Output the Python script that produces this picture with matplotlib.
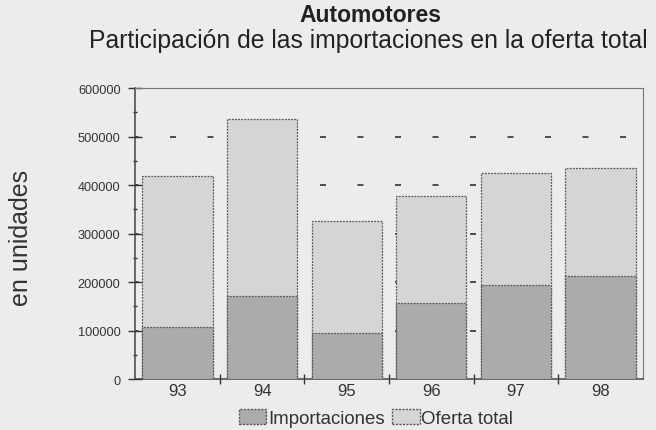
import matplotlib
matplotlib.use("Agg")
import matplotlib.pyplot as plt
from matplotlib.patches import Patch
import numpy as np

years = ["93", "94", "95", "96", "97", "98"]
oferta_total = [419000, 536000, 326000, 377000, 425000, 436000]
importaciones = [106500, 172000, 94000, 156000, 194500, 212000]
y_ticks = [0, 100000, 200000, 300000, 400000, 500000, 600000]

plt.rcParams['font.family'] = ['Liberation Sans', 'DejaVu Sans']

bg = '#ececec'
c_imp = '#ababab'
c_tot = '#d5d5d5'
edge = '#555555'

fig = plt.figure(figsize=(6.56, 4.31), dpi=100, facecolor=bg)
ax = fig.add_axes([0.206, 0.1183, 0.774, 0.6752], facecolor=bg)

x = np.arange(len(years))
w = 0.83

# dashed gridlines, mostly hidden behind the bars
for v in y_ticks[1:-1]:
    ax.axhline(v, color='#333333', lw=1.2, linestyle=(1.5, (3.6, 18.9)),
               dash_capstyle='butt', zorder=1)

ax.bar(x, oferta_total, w, color=c_tot, edgecolor=edge, lw=0.9,
       linestyle=(0, (1.5, 1)), zorder=2)
ax.bar(x, importaciones, w, color=c_imp, edgecolor=edge, lw=0.9,
       linestyle=(0, (1.5, 1)), zorder=3)

ax.set_xlim(-0.5, len(years) - 0.5)
ax.set_ylim(0, 600000)

ax.set_yticks(y_ticks)
ax.set_yticklabels([str(v) for v in y_ticks], fontsize=9.2, color='#333333')
ax.set_yticks(np.arange(50000, 600000, 100000), minor=True)
ax.tick_params(axis='y', which='major', direction='inout', length=10, width=1.0,
               color='#333333', pad=5.5)
ax.tick_params(axis='y', which='minor', direction='inout', length=3, width=1.0,
               color='#333333')

ax.set_xticks(x[:-1] + 0.5)
ax.set_xticklabels([])
ax.set_xticks(x, minor=True)
ax.set_xticklabels(years, minor=True, fontsize=12, color='#333333')
ax.tick_params(axis='x', which='major', direction='inout', length=7, width=1.0,
               color='#333333')
ax.tick_params(axis='x', which='minor', length=0, pad=3)

for s in ['left', 'bottom']:
    ax.spines[s].set_color('#444444')
    ax.spines[s].set_linewidth(1.1)
for s in ['top', 'right']:
    ax.spines[s].set_color('#777777')
    ax.spines[s].set_linewidth(0.8)
    ax.spines[s].set_linestyle((0, (2, 1)))

fig.text(0.032, 0.448, 'en unidades', rotation=90, ha='center', va='center',
         fontsize=18, color='#333333')

fig.text(0.564, 0.95, 'Automotores', ha='center', va='baseline', fontsize=16.5,
         fontweight='bold', color='#222222')
fig.text(0.561, 0.889, 'Participación de las importaciones en la oferta total',
         ha='center', va='baseline', fontsize=17.8, color='#222222')

handles = [Patch(facecolor=c_imp, edgecolor=edge, linestyle=(0, (1.5, 1))),
           Patch(facecolor=c_tot, edgecolor=edge, linestyle=(0, (1.5, 1)))]
fig.legend(handles, ['Importaciones', 'Oferta total'], loc='center',
           bbox_to_anchor=(0.573, 0.028), ncol=2, frameon=False, fontsize=13.4,
           handlelength=1.5, handleheight=0.9, handletextpad=0.08,
           columnspacing=0.4, borderpad=0, labelcolor='#333333')

fig.savefig('out.png', dpi=100, facecolor=bg)
